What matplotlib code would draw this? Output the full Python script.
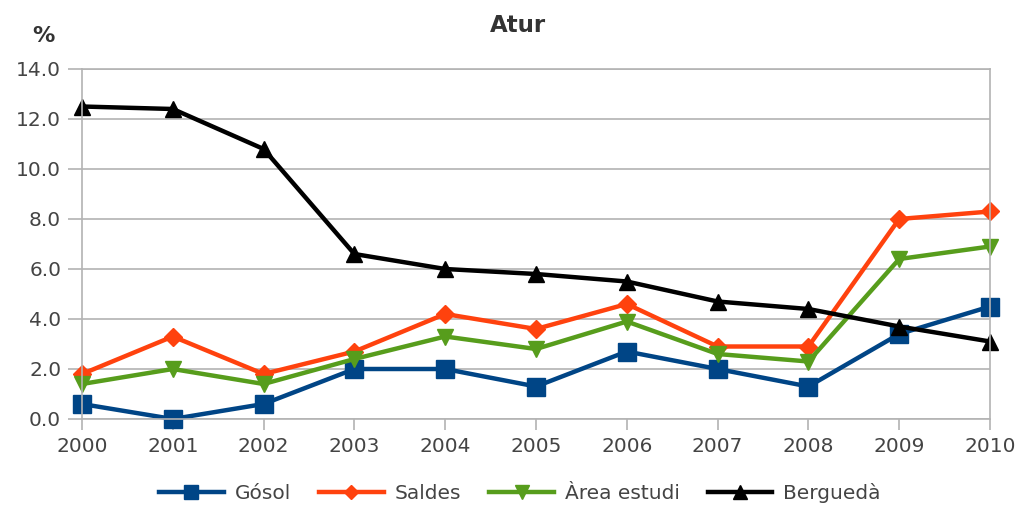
import numpy as np
import matplotlib
matplotlib.use("Agg")
import matplotlib.pyplot as plt

# dades
years = [2000, 2001, 2002, 2003, 2004, 2005, 2006, 2007, 2008, 2009, 2010]
gosol = [0.6, 0.0, 0.6, 2.0, 2.0, 1.3, 2.7, 2.0, 1.3, 3.4, 4.5]
saldes = [1.8, 3.3, 1.8, 2.7, 4.2, 3.6, 4.6, 2.9, 2.9, 8.0, 8.3]
area = [1.4, 2.0, 1.4, 2.4, 3.3, 2.8, 3.9, 2.6, 2.3, 6.4, 6.9]
bergueda = [12.5, 12.4, 10.8, 6.6, 6.0, 5.8, 5.5, 4.7, 4.4, 3.7, 3.1]
yticks = np.arange(0, 14.1, 2.0)

plt.rcParams['font.family'] = ['DejaVu Sans']

fig = plt.figure(figsize=(10.2, 5.07), dpi=100)
ax = fig.add_axes([82/1020, 1 - 419/507, (990-82)/1020, (419-69)/507])

ax.plot(years, gosol, color='#004586', lw=3.2, marker='s', ms=13, label='Gósol')
ax.plot(years, saldes, color='#ff420e', lw=3.2, marker='D', ms=9, label='Saldes')
ax.plot(years, area, color='#579d1c', lw=3.2, marker='v', ms=12, label='Àrea estudi')
ax.plot(years, bergueda, color='black', lw=3.2, marker='^', ms=12, label='Berguedà')

ax.set_xlim(2000, 2010)
ax.set_ylim(0, 14)
ax.set_xticks(years)
ax.set_yticks(yticks)
ax.set_yticklabels(['%.1f' % v for v in yticks])
ax.grid(axis='y', color='#b3b3b3', lw=1.2)
ax.set_axisbelow(True)
for s in ax.spines.values():
    s.set_color('#b3b3b3')
    s.set_linewidth(1.2)
ax.tick_params(axis='both', colors='#b3b3b3', labelcolor='#444444', labelsize=14.5, width=1.2)
ax.tick_params(axis='y', length=10, pad=5)
ax.tick_params(axis='x', length=8, pad=5)
for p in ax.lines:
    p.set_clip_on(False)

fig.text(518/1020, 1 - 26/507, 'Atur', ha='center', va='center', fontsize=16.5, fontweight='bold', color='#333333')
fig.text(43/1020, 1 - 36/507, '%', ha='center', va='center', fontsize=16, fontweight='bold', color='#333333')

fig.legend(loc='center', bbox_to_anchor=(520/1020, 1 - 493/507), ncol=4, frameon=False,
           fontsize=14.5, handlelength=3.2, columnspacing=1.4, handletextpad=0.55,
           markerscale=0.8, labelcolor='#444444')

fig.savefig('out.png', dpi=100)
